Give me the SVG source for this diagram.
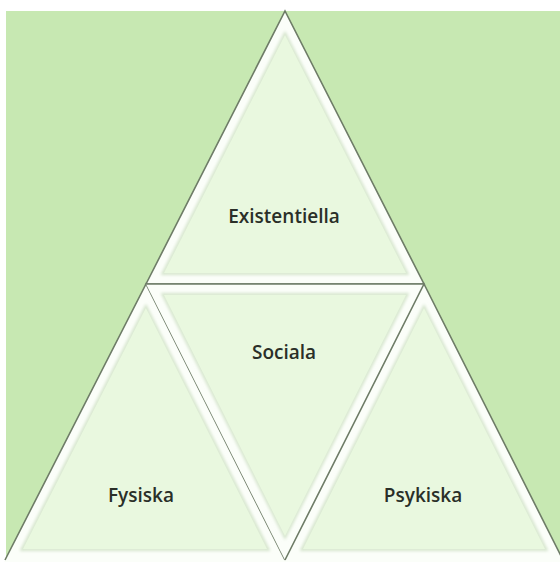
<svg xmlns="http://www.w3.org/2000/svg" width="560" height="562" viewBox="0 0 560 562">
<defs>
<style>
.outer{fill:#fbfef9;stroke:none}
.edge{fill:none;stroke:#6e7c67;stroke-width:1.6;stroke-linejoin:miter}
.inner{fill:#dfeed6;stroke:#d3e3ca;stroke-width:2}
.face{fill:#e9f8df}
.lbl{font-family:"Open Sans","Noto Sans",sans-serif;font-weight:600;font-size:19px;fill:#2a2f28;text-anchor:middle}
</style>
<filter id="soft" x="-5%" y="-5%" width="110%" height="110%"><feGaussianBlur stdDeviation="1.5"/></filter>
</defs>
<rect x="0" y="0" width="560" height="562" fill="#ffffff"/>
<rect x="6" y="11" width="554" height="551" fill="#c7e8b2"/>
<g id="connectors"></g>
<g id="node-existentiella">
<polygon class="outer" points="285,11 146,284 424,284"/>
<polygon class="inner" points="285,33 162.3,274 407.7,274" filter="url(#soft)"/>
<polygon class="face" points="285,35 164,273 406,273"/>
<path class="edge" d="M146,284 L285,11 L424,284 Z"/>
<text class="lbl" x="284" y="223">Existentiella</text>
</g>
<g id="node-fysiska">
<polygon class="outer" points="146,284 5,560 4,562 285,562 285,560"/>
<polygon class="inner" points="145.9,306 21.3,550 268.8,550" filter="url(#soft)"/>
<polygon class="face" points="145.9,308 23,549 267,549"/>
<path class="edge" d="M5,560 L146,284 L285,560"/>
<text class="lbl" x="141" y="502">Fysiska</text>
</g>
<g id="node-sociala">
<polygon class="outer" points="146,284 424,284 285,560"/>
<polygon class="inner" points="162.3,294 407.7,294 285,537.7" filter="url(#soft)"/>
<polygon class="face" points="164,295 406,295 285,536"/>
<path class="edge" d="M146,284 L424,284"/>
<text class="lbl" x="284" y="359">Sociala</text>
</g>
<g id="node-psykiska">
<polygon class="outer" points="424,284 285,560 285,562 563,562 563,560"/>
<polygon class="inner" points="424,306.3 301.3,550 546.7,550" filter="url(#soft)"/>
<polygon class="face" points="424,308 303,549 545,549"/>
<path class="edge" d="M285,560 L424,284 L563,560"/>
<text class="lbl" x="423" y="502">Psykiska</text>
</g>
</svg>
